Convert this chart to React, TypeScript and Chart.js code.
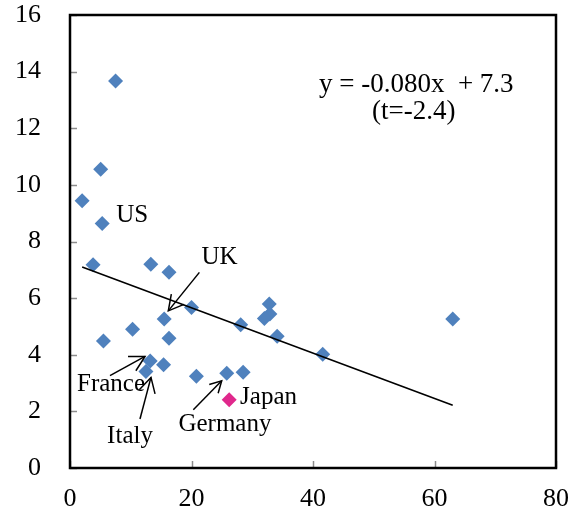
import React, { useEffect, useRef } from 'react';
import { Chart, registerables } from 'chart.js';

Chart.register(...registerables);

// ---- data ----
const otherX = [7.5, 5.05, 2.0, 5.3, 3.8, 13.3, 16.3, 20.0, 32.8, 32.9, 32.0, 28.1, 34.1, 15.5, 10.3, 16.3, 5.5, 13.2, 15.4, 12.5, 20.8, 25.8, 28.5, 41.6, 63.0];
const otherY = [13.67, 10.55, 9.44, 8.64, 7.18, 7.2, 6.91, 5.67, 5.79, 5.44, 5.28, 5.06, 4.65, 5.26, 4.9, 4.58, 4.49, 3.78, 3.65, 3.41, 3.24, 3.35, 3.38, 4.02, 5.26];
const japanX = [26.2];
const japanY = [2.41];
const trendX = [2.0, 63.0];
const trendY = [7.1, 2.22];
const xTickValues = [0, 20, 40, 60, 80];
const yTickValues = [0, 2, 4, 6, 8, 10, 12, 14, 16];
const countryLabels = ['US', 'UK', 'France', 'Italy', 'Germany', 'Japan'];
const equationLines = ['y = -0.080x  + 7.3', '(t=-2.4)'];

// ---- annotation placement (data units) ----
const labelAnchors = [
  { x: 7.6, y: 8.68, align: 'left' },
  { x: 24.6, y: 7.2, align: 'center' },
  { x: 6.75, y: 2.73, align: 'center' },
  { x: 9.88, y: 0.88, align: 'center' },
  { x: 25.5, y: 1.32, align: 'center' },
  { x: 28.0, y: 2.26, align: 'left' },
];
const equationAnchors = [
  { x: 57.0, y: 13.27 },
  { x: 56.6, y: 12.32 },
];
const arrows = [
  { x1: 21.3, y1: 6.91, x2: 16.18, y2: 5.55, head: 17 },
  { x1: 6.58, y1: 3.26, x2: 12.35, y2: 3.94, head: 17 },
  { x1: 11.52, y1: 1.73, x2: 13.33, y2: 3.2, head: 17 },
  { x1: 20.3, y1: 2.06, x2: 24.97, y2: 3.08, head: 13 },
];

const FONT = "'Liberation Serif', 'Times New Roman', serif";

const overlayPlugin = {
  id: 'overlay',
  afterDraw(chart: any) {
    const ctx = chart.ctx as CanvasRenderingContext2D;
    const xs = chart.scales.x;
    const ys = chart.scales.y;
    const area = chart.chartArea;
    ctx.save();
    // inner tick marks
    ctx.strokeStyle = '#8c8c8c';
    ctx.lineWidth = 1.5;
    for (const v of yTickValues) {
      const py = Math.round(ys.getPixelForValue(v)) + 0.5;
      ctx.beginPath();
      ctx.moveTo(area.left, py);
      ctx.lineTo(area.left + 7, py);
      ctx.stroke();
    }
    for (const v of xTickValues) {
      const px = Math.round(xs.getPixelForValue(v)) + 0.5;
      ctx.beginPath();
      ctx.moveTo(px, area.bottom);
      ctx.lineTo(px, area.bottom - 7);
      ctx.stroke();
    }
    // plot border
    ctx.strokeStyle = '#000';
    ctx.lineWidth = 2.5;
    ctx.strokeRect(area.left, area.top, area.right - area.left, area.bottom - area.top);

    // arrows
    ctx.strokeStyle = '#000';
    ctx.lineWidth = 1.5;
    for (const a of arrows) {
      const x1 = xs.getPixelForValue(a.x1);
      const y1 = ys.getPixelForValue(a.y1);
      const x2 = xs.getPixelForValue(a.x2);
      const y2 = ys.getPixelForValue(a.y2);
      ctx.beginPath();
      ctx.moveTo(x1, y1);
      ctx.lineTo(x2, y2);
      ctx.stroke();
      const ang = Math.atan2(y2 - y1, x2 - x1);
      const spread = 0.5;
      ctx.beginPath();
      ctx.moveTo(x2 - a.head * Math.cos(ang - spread), y2 - a.head * Math.sin(ang - spread));
      ctx.lineTo(x2, y2);
      ctx.lineTo(x2 - a.head * Math.cos(ang + spread), y2 - a.head * Math.sin(ang + spread));
      ctx.stroke();
    }

    // labels
    ctx.fillStyle = '#000';
    ctx.textBaseline = 'alphabetic';
    ctx.font = `25px ${FONT}`;
    countryLabels.forEach((t, i) => {
      const p = labelAnchors[i];
      ctx.textAlign = p.align as CanvasTextAlign;
      ctx.fillText(t, xs.getPixelForValue(p.x), ys.getPixelForValue(p.y));
    });
    ctx.font = `27px ${FONT}`;
    ctx.textAlign = 'center';
    equationLines.forEach((t, i) => {
      const p = equationAnchors[i];
      ctx.fillText(t, xs.getPixelForValue(p.x), ys.getPixelForValue(p.y));
    });
    ctx.restore();
  },
};

export default function App() {
  const ref = useRef<HTMLCanvasElement | null>(null);
  useEffect(() => {
    if (!ref.current) return;
    const chart = new Chart(ref.current, {
      type: 'scatter',
      data: {
        datasets: [
          {
            type: 'line',
            label: 'trend',
            data: trendX.map((x, i) => ({ x, y: trendY[i] })),
            borderColor: '#000',
            borderWidth: 1.6,
            pointRadius: 0,
            showLine: true,
            fill: false,
            order: 0,
          } as any,
          {
            label: 'Japan',
            data: japanX.map((x, i) => ({ x, y: japanY[i] })),
            backgroundColor: '#E0288C',
            borderWidth: 0,
            pointStyle: 'rectRot',
            pointRadius: 7.5,
            order: 1,
          },
          {
            label: 'Others',
            data: otherX.map((x, i) => ({ x, y: otherY[i] })),
            backgroundColor: '#4F81BD',
            borderWidth: 0,
            pointStyle: 'rectRot',
            pointRadius: 7.5,
            order: 2,
          },
        ],
      },
      options: {
        animation: false,
        responsive: true,
        maintainAspectRatio: false,
        layout: { padding: { top: 0, right: 26, left: 0, bottom: 0 } },
        plugins: { legend: { display: false }, tooltip: { enabled: false } },
        scales: {
          x: {
            type: 'linear',
            min: 0,
            max: 80,
            afterFit: (s: any) => { s.height = 44; s.paddingLeft = 0; s.paddingRight = 0; },
            afterBuildTicks: (s: any) => { s.ticks = xTickValues.map((v) => ({ value: v })); },
            ticks: { padding: 16, color: '#000', font: { family: FONT, size: 26 } },
            grid: { display: false, drawTicks: false },
            border: { display: false },
          },
          y: {
            type: 'linear',
            min: 0,
            max: 16,
            afterFit: (s: any) => { s.width = 70; s.paddingTop = 15; s.paddingBottom = 0; },
            afterBuildTicks: (s: any) => { s.ticks = yTickValues.map((v) => ({ value: v })); },
            ticks: { padding: 29, color: '#000', font: { family: FONT, size: 26 } },
            grid: { display: false, drawTicks: false },
            border: { display: false },
          },
        },
      },
      plugins: [overlayPlugin],
    });
    return () => chart.destroy();
  }, []);
  return (
    <div style={{ position: 'absolute', left: 0, top: 0, width: 582, height: 512, background: '#fff' }}>
      <canvas ref={ref} />
    </div>
  );
}
